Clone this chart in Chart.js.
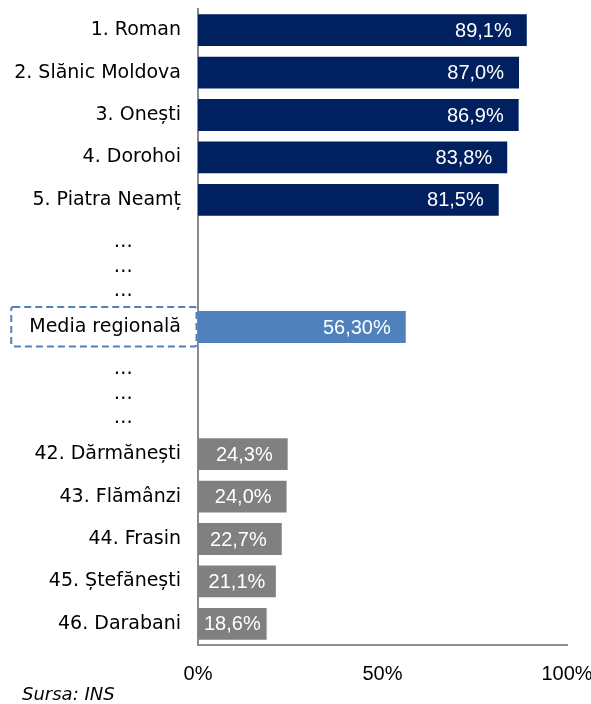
<!DOCTYPE html>
<html>
<head>
<meta charset="utf-8">
<script src="https://cdn.jsdelivr.net/npm/chart.js@4/dist/chart.umd.min.js"></script>
<style>
  html, body { margin: 0; padding: 0; background: #ffffff; }
  canvas { display: block; }
</style>
</head>
<body>
<canvas id="chart" width="591" height="704"></canvas>
<script>
// Omitted ranks are shown as stacked ellipses; trailing spaces push the dots left of the names.
const DOTS = '\u2026        ';

const categories = [
  '1. Roman', '2. Slănic Moldova', '3. Onești', '4. Dorohoi', '5. Piatra Neamț',
  ['', '', DOTS, DOTS, DOTS], '',
  'Media regională',
  ['', '', DOTS, DOTS, DOTS], '',
  '42. Dărmănești', '43. Flămânzi', '44. Frasin', '45. Ștefănești', '46. Darabani'
];
const values = [89.1, 87.0, 86.9, 83.8, 81.5, null, null, 56.3, null, null, 24.3, 24.0, 22.7, 21.1, 18.6];
const decimals = [1, 1, 1, 1, 1, 0, 0, 2, 0, 0, 1, 1, 1, 1, 1];
const groups = ['top', 'top', 'top', 'top', 'top', 'gap', 'gap', 'avg', 'gap', 'gap',
                'bottom', 'bottom', 'bottom', 'bottom', 'bottom'];
const averageLabel = 'Media regională';
const xTicks = [0, 50, 100];
const sourceNote = 'Sursa: INS';

const groupColors = { top: '#002060', avg: '#4F81BD', bottom: '#808080', gap: 'rgba(0,0,0,0)' };
const LABEL_FONT = { family: '"DejaVu Sans", sans-serif', size: 19 };
const TICK_PAD = 17;

function formatPct(v, d) {
  return v.toFixed(d).replace('.', ',') + '%';
}

// Let the long category names run into the left margin instead of being clipped
const widenLabelArea = {
  id: 'widenLabelArea',
  afterLayout(chart) {
    const y = chart.scales.y;
    y.left = 0;
  }
};

// White value labels inside the bar ends (centred when the bar is too short)
const valueLabels = {
  id: 'valueLabels',
  afterDatasetsDraw(chart) {
    const ctx = chart.ctx;
    const meta = chart.getDatasetMeta(0);
    ctx.save();
    ctx.font = '20px "Liberation Sans", Arial, sans-serif';
    ctx.fillStyle = '#ffffff';
    ctx.textBaseline = 'middle';
    ctx.textAlign = 'left';
    meta.data.forEach((bar, i) => {
      const v = values[i];
      if (v === null || v === undefined) return;
      const text = formatPct(v, decimals[i]);
      const w = ctx.measureText(text).width;
      const end = bar.x, base = bar.base;
      let left = end - 15 - w;
      if (left < base + 12) left = (base + end) / 2 - w / 2;
      ctx.fillText(text, left, bar.y + 1);
    });
    ctx.restore();
  }
};

// Dashed frame around the regional average label
const averageFrame = {
  id: 'averageFrame',
  afterDraw(chart) {
    const idx = categories.indexOf(averageLabel);
    if (idx < 0) return;
    const ctx = chart.ctx;
    const yScale = chart.scales.y;
    const yc = yScale.getPixelForValue(idx);
    ctx.save();
    ctx.font = LABEL_FONT.size + 'px ' + LABEL_FONT.family;
    const w = ctx.measureText(averageLabel).width;
    const anchor = chart.chartArea.left - TICK_PAD;
    const x0 = anchor - w - 18;
    const x1 = chart.chartArea.left - 1.5;
    const y0 = yc - 20;
    const y1 = yc + 19.5;
    ctx.strokeStyle = '#4F81BD';
    ctx.lineWidth = 2;
    ctx.setLineDash([7, 4]);
    ctx.beginPath();
    ctx.roundRect(x0, y0, x1 - x0, y1 - y0, 2);
    ctx.stroke();
    ctx.restore();
  }
};

new Chart(document.getElementById('chart'), {
  type: 'bar',
  data: {
    labels: categories,
    datasets: [{
      data: values,
      backgroundColor: groups.map(g => groupColors[g]),
      borderWidth: 0,
      barPercentage: 0.75,
      categoryPercentage: 1.0
    }]
  },
  options: {
    indexAxis: 'y',
    responsive: false,
    animation: false,
    layout: { padding: { top: 9, left: 22, right: 24, bottom: 0 } },
    plugins: {
      legend: { display: false },
      tooltip: { enabled: false },
      title: {
        display: true,
        text: sourceNote,
        position: 'bottom',
        align: 'start',
        color: '#000000',
        font: { family: '"DejaVu Sans", sans-serif', size: 18, style: 'italic', weight: 'normal', lineHeight: 1 },
        padding: { top: 0, bottom: 0 }
      }
    },
    scales: {
      x: {
        min: 0,
        max: 100,
        afterBuildTicks(scale) { scale.ticks = xTicks.map(v => ({ value: v })); },
        afterFit(scale) {
          scale.height = 41;
          scale.paddingLeft = 0;
          scale.paddingRight = 0;
        },
        grid: { display: false, drawTicks: false },
        border: { display: true, color: '#8e8e8e', width: 2 },
        ticks: {
          color: '#000000',
          padding: 18,
          maxRotation: 0,
          font: { family: '"Liberation Sans", Arial, sans-serif', size: 20, lineHeight: 1.15 },
          callback: v => v + '%'
        }
      },
      y: {
        afterFit(scale) {
          scale.width = 176;
          scale.paddingTop = 0;
          scale.paddingBottom = 0;
        },
        grid: { display: false, drawTicks: false },
        border: { display: true, color: '#8a8a8a', width: 2 },
        ticks: {
          autoSkip: false,
          color: '#000000',
          padding: TICK_PAD,
          font: { family: LABEL_FONT.family, size: LABEL_FONT.size, lineHeight: '24.5px' }
        }
      }
    }
  },
  plugins: [widenLabelArea, valueLabels, averageFrame]
});
</script>
</body>
</html>
